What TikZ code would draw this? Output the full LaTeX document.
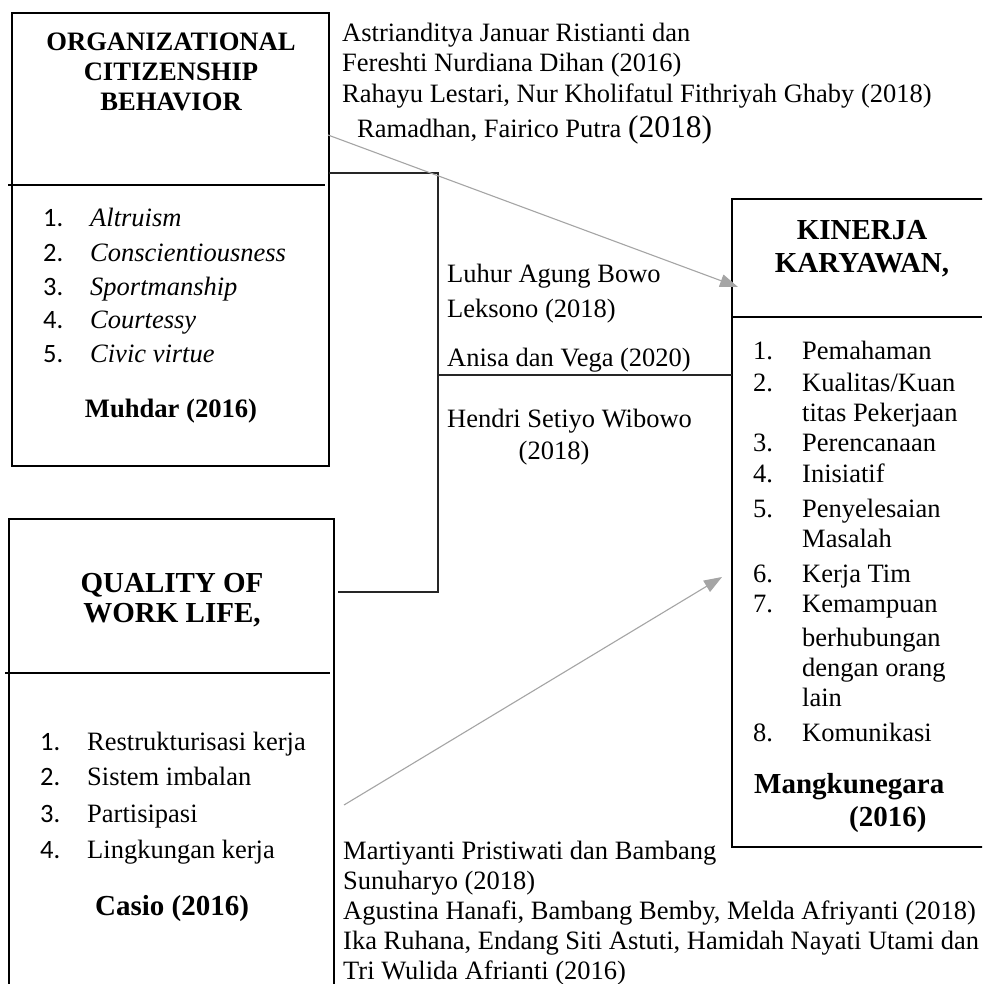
\documentclass[tikz,border=0pt]{standalone}
\usepackage{fontspec}
\setmainfont{Liberation Serif}
\newfontfamily\calib{Carlito}
\usetikzlibrary{arrows.meta}
\definecolor{arrgray}{HTML}{A5A5A5}
\newcommand\nsz{\fontsize{26.5pt}{30pt}\selectfont}
\newcommand\bsz{\fontsize{29pt}{32pt}\selectfont}
\newcommand\tsz{\fontsize{26.6pt}{30pt}\selectfont}
\newcommand\lsz{\fontsize{31.5pt}{34pt}\selectfont}
\begin{document}
\begin{tikzpicture}[x=1pt,y=-1pt,
  frame/.style={draw=black,line width=2.6pt,inner sep=0pt,outer sep=0pt},
  divider/.style={draw=black,line width=1.4pt},
  bracket/.style={draw=black!85,line width=1.3pt},
  link/.style={draw=arrgray,line width=1.1pt,-{Triangle[length=18pt,width=13pt]}},
  t/.style={inner sep=0pt,anchor=base west,font=\nsz},
  ti/.style={inner sep=0pt,anchor=base west,font=\nsz\itshape},
  tc/.style={inner sep=0pt,anchor=base,font=\nsz},
  num/.style={inner sep=0pt,anchor=base west,font=\calib\nsz},
  ttl/.style={inner sep=0pt,anchor=base,font=\bfseries\tsz},
  ttlb/.style={inner sep=0pt,anchor=base,font=\bfseries\bsz},
  ttlw/.style={inner sep=0pt,anchor=base west,font=\bfseries\bsz}]
\useasboundingbox (0,0) rectangle (982,984);
\clip (0,0) rectangle (982,984);
\fill[white] (0,0) rectangle (982,984);

% boxes
\node[frame,minimum width=317pt,minimum height=453pt,anchor=north west] (ocb) at (12,13) {};
\node[frame,minimum width=325pt,minimum height=520pt,anchor=north west] (qwl) at (9,519) {};
\node[frame,minimum width=280pt,minimum height=648pt,anchor=north west] (kin) at (732,199) {};
\draw[divider] (8,185) -- (325,185);
\draw[divider] (5,673) -- (330,673);
\draw[divider] (732,317) -- (982,317);

% bracket connector
\coordinate (jt) at (438,173);
\coordinate (jm) at (438,375);
\coordinate (jb) at (438,592);
\coordinate (qbr) at (338,592);
\draw[bracket] (ocb.east |- jt) -- (jt) -- (jb) -- (qbr);
\draw[bracket] (jm) -- (kin.west |- jm);

% arrows
\coordinate (a1s) at (328,135);
\coordinate (a1e) at (738,287);
\coordinate (a2s) at (344,805);
\coordinate (a2e) at (722,577);
\draw[link] (a1s) -- (a1e);
\draw[link] (a2s) -- (a2e);

% OCB box text
\node[ttl] (o1) at (171,51) {ORGANIZATIONAL};
\node[ttl] (o2) at (171,81) {CITIZENSHIP};
\node[ttl] (o3) at (171,111) {BEHAVIOR};
\node[num] (on1) at (43,227) {1.};
\node[ti] (ot1) at (90,227) {Altruism};
\node[num] (on2) at (43,261) {2.};
\node[ti] (ot2) at (90,261) {Conscientiousness};
\node[num] (on3) at (43,295) {3.};
\node[ti] (ot3) at (90,295) {Sportmanship};
\node[num] (on4) at (43,328) {4.};
\node[ti] (ot4) at (90,328) {Courtessy};
\node[num] (on5) at (43,362) {5.};
\node[ti] (ot5) at (90,362) {Civic virtue};
\node[ttl] (osrc) at (171,417) {Muhdar (2016)};

% QWL box text
\node[ttlb] (q1) at (172,592) {QUALITY OF};
\node[ttlb] (q2) at (172,622) {WORK LIFE,};
\node[num] (qn1) at (40,750) {1.};
\node[t] (qt1) at (87,750) {Restrukturisasi kerja};
\node[num] (qn2) at (40,785) {2.};
\node[t] (qt2) at (87,785) {Sistem imbalan};
\node[num] (qn3) at (40,822) {3.};
\node[t] (qt3) at (87,822) {Partisipasi};
\node[num] (qn4) at (40,858) {4.};
\node[t] (qt4) at (87,858) {Lingkungan kerja};
\node[ttlb] (qsrc) at (172,915) {Casio (2016)};

% KINERJA box text
\node[ttlb] (k1) at (862,240) {KINERJA};
\node[ttlb] (k2) at (862,272) {KARYAWAN,};
\node[t] (kn1) at (753,359) {1.};
\node[t] (kt1) at (802,359) {Pemahaman};
\node[t] (kn2) at (753,391) {2.};
\node[t] (kt2) at (802,391) {Kualitas/Kuan};
\node[t] (kt2b) at (802,421) {titas Pekerjaan};
\node[t] (kn3) at (753,451) {3.};
\node[t] (kt3) at (802,451) {Perencanaan};
\node[t] (kn4) at (753,482) {4.};
\node[t] (kt4) at (802,482) {Inisiatif};
\node[t] (kn5) at (753,517) {5.};
\node[t] (kt5) at (802,517) {Penyelesaian};
\node[t] (kt5b) at (802,547) {Masalah};
\node[t] (kn6) at (753,582) {6.};
\node[t] (kt6) at (802,582) {Kerja Tim};
\node[t] (kn7) at (753,612) {7.};
\node[t] (kt7) at (802,612) {Kemampuan};
\node[t] (kt7b) at (802,646) {berhubungan};
\node[t] (kt7c) at (802,676) {dengan orang};
\node[t] (kt7d) at (802,706) {lain};
\node[t] (kn8) at (753,741) {8.};
\node[t] (kt8) at (802,741) {Komunikasi};
\node[ttlw] (ksrc1) at (754,793) {Mangkunegara};
\node[ttlw] (ksrc2) at (849,826) {(2016)};

% citation labels
\node[t] (c1) at (342,42) {Astrianditya Januar Ristianti dan};
\node[t] (c2) at (342,72) {Fereshti Nurdiana Dihan (2016)};
\node[t] (c3) at (342,103) {Rahayu Lestari, Nur Kholifatul Fithriyah Ghaby (2018)};
\node[t] (c4) at (357,138) {Ramadhan, Fairico Putra {\lsz(2018)}};

\node[t] (m1) at (447,282) {Luhur Agung Bowo};
\node[t] (m2) at (447,317) {Leksono (2018)};
\node[t] (m3) at (447,366) {Anisa dan Vega (2020)};
\node[t] (m4) at (447,427) {Hendri Setiyo Wibowo};
\node[tc] (m5) at (554,459) {(2018)};

\node[t] (b1) at (343,859) {Martiyanti Pristiwati dan Bambang};
\node[t] (b2) at (343,889) {Sunuharyo (2018)};
\node[t] (b3) at (343,919) {Agustina Hanafi, Bambang Bemby, Melda Afriyanti (2018)};
\node[t] (b4) at (343,949) {Ika Ruhana, Endang Siti Astuti, Hamidah Nayati Utami dan};
\node[t] (b5) at (343,979) {Tri Wulida Afrianti (2016)};
\end{tikzpicture}
\end{document}
